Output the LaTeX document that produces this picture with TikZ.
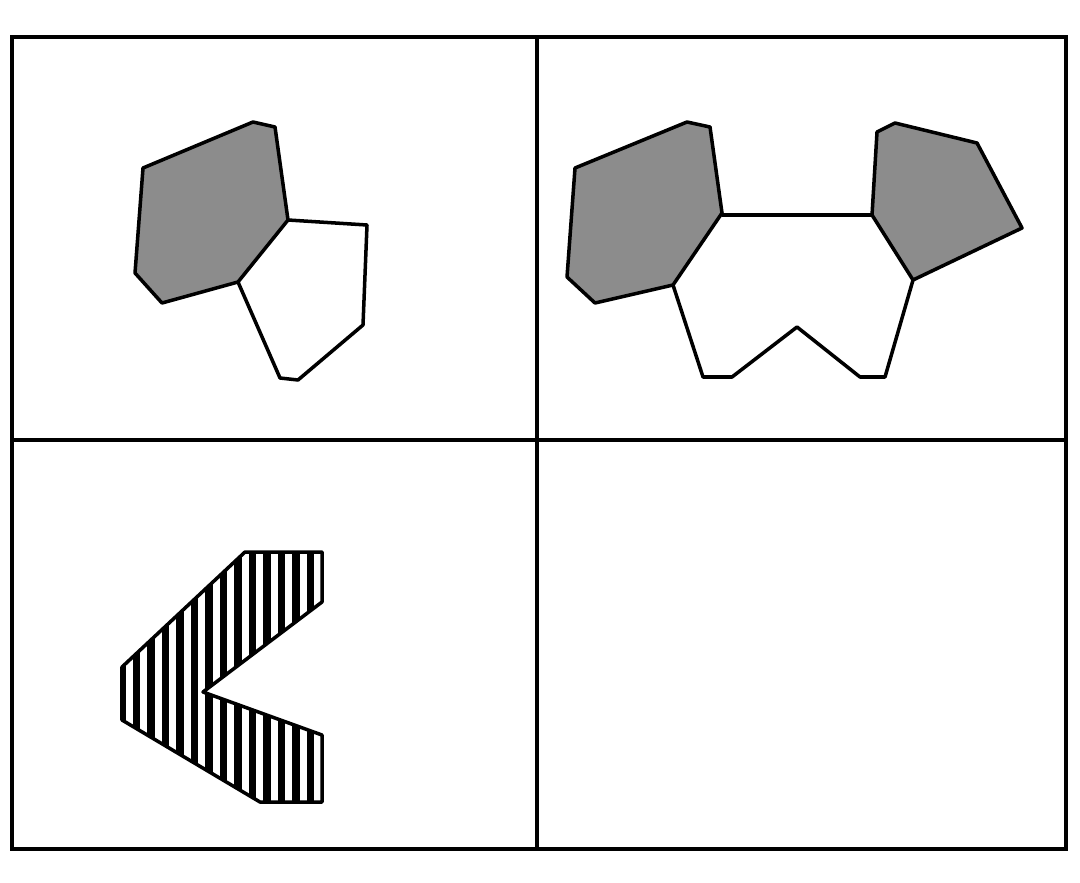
\documentclass[tikz,border=0pt]{standalone}
\usepackage{tikz}

\begin{document}
\begin{tikzpicture}[
    x=0.01cm, y=-0.01cm,
    panelframe/.style={line width=1.2pt},
    outline/.style={draw, line width=1pt, line join=round},
    shaded/.style={outline, fill=black!45},
    hatchline/.style={line width=2pt}
  ]
    \useasboundingbox (0,0) rectangle (1080,882);
    \draw[panelframe] (12,37) rectangle (1066,849);
    \draw[panelframe] (537,37) -- (537,849);
    \draw[panelframe] (12,440) -- (1066,440);
    % top left
    \draw[outline] (288,220) -- (367,225) -- (363,325) -- (298,380) -- (280,378) -- (238,282);
    \draw[shaded] (143,168) -- (253,122) -- (275,127) -- (288,220) -- (238,282)
      -- (162,303) -- (135,273) -- cycle;
    % top right
    \draw[outline] (722,215) -- (872,215);
    \draw[outline] (673,285) -- (703,377) -- (732,377) -- (797,327) -- (860,377)
      -- (885,377) -- (913,280);
    \draw[shaded] (575,168) -- (687,122) -- (710,127) -- (722,213) -- (673,285)
      -- (595,303) -- (567,277) -- cycle;
    \draw[shaded] (872,215) -- (877,132) -- (895,123) -- (977,143) -- (1022,228)
      -- (913,280) -- cycle;
    % bottom left
    \begin{scope}
      \clip (245,552) -- (322,552) -- (322,602) -- (203,692) -- (322,735) -- (322,802)
        -- (260,802) -- (122,720) -- (122,667) -- cycle;
      \foreach \x in {122,136.5,...,330}
        \draw[hatchline] (\x,540) -- (\x,815);
    \end{scope}
    \draw[outline] (245,552) -- (322,552) -- (322,602) -- (203,692) -- (322,735) -- (322,802)
      -- (260,802) -- (122,720) -- (122,667) -- cycle;
  \end{tikzpicture}
\end{document}
